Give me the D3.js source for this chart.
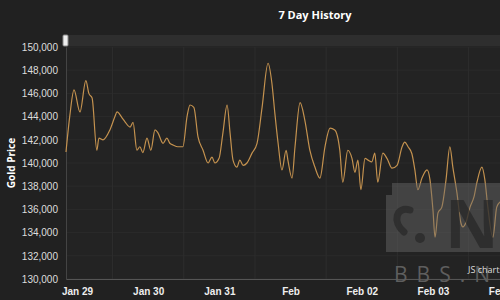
<!DOCTYPE html>
<html>
<head>
<meta charset="utf-8">
<script src="https://cdn.jsdelivr.net/npm/d3@7"></script>
<style>
  body { margin: 0; background: #212121; }
  svg { display: block; font-family: "Open Sans", "DejaVu Sans", sans-serif; }
</style>
</head>
<body>
<svg id="chart" width="500" height="300"></svg>
<script>
// hours after Jan 29 00:00
var hours = [-3.7, -2.4, -1.0, 1.0, 3.0, 4.0, 5.1, 6.7, 7.4, 8.8, 11.1, 12.8, 13.5, 15.2, 16.2, 17.9, 18.9,
  20.2, 21.2, 22.2, 23.6, 24.9, 26.3, 27.3, 29.0, 30.3, 31.3, 32.4, 34.0, 35.7, 37.1, 38.1, 39.4,
  40.8, 42.5, 44.2, 45.5, 46.5, 47.9, 49.2, 50.6, 51.6, 52.6, 53.9, 54.9, 56.0, 57.3, 59.0, 60.7,
  62.4, 64.4, 65.7, 66.7, 67.8, 69.1, 70.5, 71.1, 72.5, 73.5, 75.2, 76.8, 78.5, 80.2, 81.9, 83.6,
  85.3, 86.9, 88.6, 89.6, 91.3, 92.7, 93.7, 94.7, 95.7, 97.1, 98.1, 99.4, 100.4, 101.4, 103.1,
  104.5, 106.2, 107.9, 109.6, 110.5, 111.6, 112.9, 113.9, 114.9, 116.3, 118.0, 119.0, 120.0,
  120.7, 121.7, 123.0, 124.4, 125.7, 126.7, 128.1, 129.4, 130.1, 131.1, 132.5, 133.8, 134.8,
  136.5, 137.5, 138.5, 140.2, 141.5, 142.6];
var prices = [140950, 144100, 146300, 144400, 147100, 146000, 145600, 141100, 142150, 142000, 142850, 144000, 144400, 143900, 143550, 143100, 143500,
  141100, 141400, 140900, 142150, 141100, 142850, 142600, 141700, 142150, 141700, 141550, 141400, 141400, 144000, 145000, 144800,
  142250, 141100, 140000, 140500, 140000, 140400, 142600, 145000, 142600, 140250, 139650, 140250, 139800, 140000, 140850, 141700,
  144800, 148600, 146900, 144300, 141700, 139400, 141100, 140250, 138700, 141400, 145200, 143700, 141100, 139650, 138700, 141400,
  143000, 142850, 141100, 138350, 141100, 140400, 139200, 140250, 137700, 140400, 140250, 140100, 140850, 138350, 140850,
  140400, 139550, 139800, 141400, 141800, 141400, 140800, 139400, 137700, 138700, 139400, 138550, 135950,
  133600, 135700, 136200, 138550, 141400, 139650, 137400, 134850, 134500, 134850, 136200, 137050, 138300,
  139650, 138550, 136200, 133600, 136200, 136650];
var dayLabels = ['Jan 29', 'Jan 30', 'Jan 31', 'Feb', 'Feb 02', 'Feb 03', 'Feb 04'];
var priceTicks = [130000, 132000, 134000, 136000, 138000, 140000, 142000, 144000, 146000, 148000, 150000];

var svg = d3.select('#chart');
var plotLeft = 66, plotRight = 500, plotTop = 47, plotBottom = 279;

var x = d3.scaleLinear().domain([-3.7, 142.6]).range([plotLeft, plotRight]);
var y = d3.scaleLinear().domain([130000, 150000]).range([plotBottom, plotTop]);

svg.append('rect').attr('width', 500).attr('height', 300).attr('fill', '#212121');
svg.append('rect').attr('x', plotLeft).attr('y', plotTop)
  .attr('width', plotRight - plotLeft).attr('height', plotBottom - plotTop)
  .attr('fill', '#232323');

// navigator strip at the top
svg.append('rect').attr('x', plotLeft).attr('y', 35).attr('width', plotRight - plotLeft).attr('height', 11)
  .attr('fill', '#2e2e2e');

// horizontal grid
svg.append('g').selectAll('line').data(priceTicks).enter().append('line')
  .attr('x1', plotLeft).attr('x2', plotRight)
  .attr('y1', function(d) { return y(d); }).attr('y2', function(d) { return y(d); })
  .attr('stroke', '#2b2b2b');

// vertical grid at midday
var dayIdx = d3.range(dayLabels.length);
svg.append('g').selectAll('line').data(dayIdx).enter().append('line')
  .attr('x1', function(d) { return x(d * 24 + 12); }).attr('x2', function(d) { return x(d * 24 + 12); })
  .attr('y1', plotTop).attr('y2', plotBottom)
  .attr('stroke', '#2d2d2d');

// y axis
var yAxis = d3.axisLeft(y).tickValues(priceTicks).tickSize(0).tickPadding(8)
  .tickFormat(d3.format(','));
var gy = svg.append('g').attr('transform', 'translate(' + plotLeft + ',0)').call(yAxis);
gy.select('.domain').attr('stroke', '#444');
gy.selectAll('text').attr('fill', '#dddddd').style('font-size', '10px');

// x axis
var xAxis = d3.axisBottom(x).tickValues(dayIdx.map(function(d) { return d * 24; }))
  .tickSize(0).tickPadding(9)
  .tickFormat(function(d) { return dayLabels[d / 24]; });
var gx = svg.append('g').attr('transform', 'translate(0,' + plotBottom + ')').call(xAxis);
gx.select('.domain').attr('stroke', '#555');
gx.selectAll('text').attr('fill', '#eeeeee').style('font-size', '10px').style('font-weight', 'bold');

// price line
var line = d3.line()
  .x(function(d, i) { return x(hours[i]); })
  .y(function(d) { return y(d); })
  .curve(d3.curveMonotoneX);
svg.append('path').datum(prices)
  .attr('d', line)
  .attr('fill', 'none')
  .attr('stroke', '#c4924f')
  .attr('stroke-width', 1.2);

// watermark laid over the plot
var wm = svg.append('g');
wm.append('path')
  .attr('d', 'M386,195 L392,195 L392,183 L500,183 L500,252 L386,252 Z')
  .attr('fill', '#6a6a6a').attr('opacity', 0.45);
wm.append('text').attr('x', 445).attr('y', 248).text('NG')
  .attr('fill', '#262626').attr('opacity', 0.7).style('font-size', '66px').style('font-weight', 'bold');
wm.append('path')
  .attr('d', 'M404,232 C392,222 396,206 410,210')
  .attr('fill', 'none').attr('stroke', '#262626').attr('opacity', 0.7)
  .attr('stroke-width', 7).attr('stroke-linecap', 'round');
wm.append('circle').attr('cx', 420).attr('cy', 238).attr('r', 5).attr('fill', '#262626').attr('opacity', 0.7);
wm.append('text').attr('x', 394).attr('y', 282).text('BBS.NGA')
  .attr('fill', '#5e5e5e').style('font-size', '21px').style('letter-spacing', '9px');

// navigator handle
svg.append('rect').attr('x', 63).attr('y', 35).attr('width', 5).attr('height', 11)
  .attr('rx', 1).attr('fill', '#eeeeee').attr('stroke', '#888');

// titles
svg.append('text').attr('x', 315).attr('y', 19).attr('text-anchor', 'middle')
  .text('7 Day History').attr('fill', '#ffffff')
  .style('font-size', '11px').style('font-weight', 'bold');
svg.append('text').attr('transform', 'translate(15,163) rotate(-90)').attr('text-anchor', 'middle')
  .text('Gold Price').attr('fill', '#ffffff')
  .style('font-size', '10px').style('font-weight', 'bold');
svg.append('text').attr('x', 468).attr('y', 273).text('JS charts')
  .attr('fill', '#dddddd').style('font-size', '9px');
</script>
</body>
</html>
